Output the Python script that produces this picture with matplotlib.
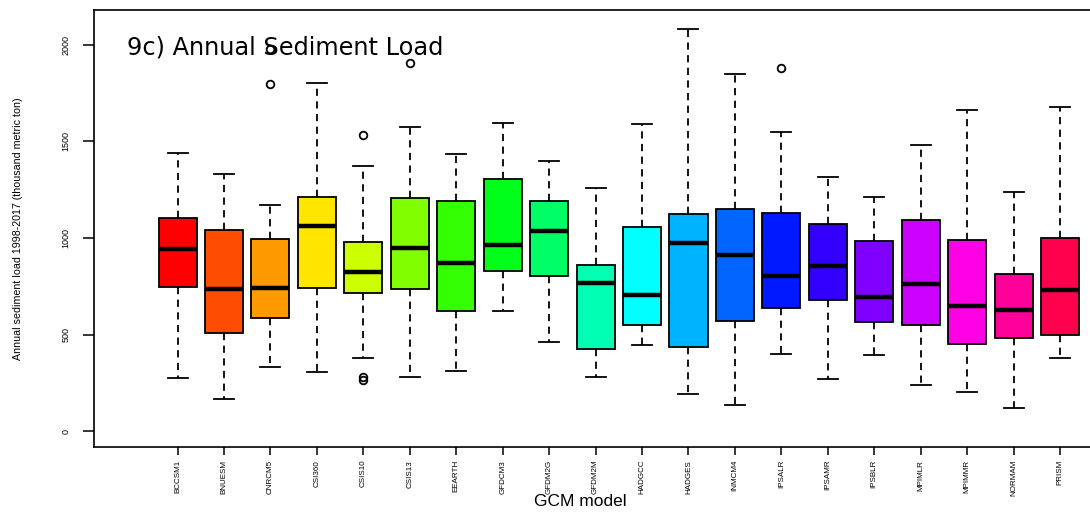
import numpy as np
import matplotlib
matplotlib.use("Agg")
import matplotlib.pyplot as plt

# GCM models and the box statistics of annual sediment load (thousand metric ton)
models = ["BCCSM1", "BNUESM", "CNRCM5", "CSI360", "CSIS10", "CSIS13", "EEARTH",
          "GFDCM3", "GFDM2G", "GFDM2M", "HADGCC", "HADGES", "INMCM4", "IPSALR",
          "IPSAMR", "IPSBLR", "MPIMLR", "MPIMMR", "NORMAM", "PRISM"]
whis_lo = [277, 168, 332, 308, 382, 280, 311, 621, 464, 280,
           446, 196, 139, 402, 271, 394, 239, 206, 123, 378]
q1 = [746, 511, 588, 740, 718, 737, 621, 831, 804, 425,
      552, 437, 571, 639, 680, 566, 552, 454, 485, 497]
median = [944, 737, 740, 1064, 825, 950, 871, 964, 1035, 766,
          704, 976, 913, 804, 856, 695, 761, 647, 627, 733]
q3 = [1105, 1040, 997, 1211, 981, 1207, 1190, 1306, 1193, 861,
      1056, 1126, 1152, 1131, 1074, 987, 1095, 992, 814, 1002]
whis_hi = [1440, 1333, 1173, 1803, 1374, 1574, 1433, 1597, 1397, 1261,
           1588, 2081, 1848, 1549, 1316, 1213, 1481, 1662, 1238, 1678]
outliers = [[], [], [1795, 1976], [], [1533, 268, 280], [1907], [], [], [], [],
            [], [], [], [1881], [], [], [], [], [], []]

# rainbow palette, one colour per model
colors = ["#FF0000", "#FF4D00", "#FF9900", "#FFE500", "#CCFF00", "#80FF00", "#33FF00",
          "#00FF19", "#00FF66", "#00FFB2", "#00FFFF", "#00B3FF", "#0066FF", "#0019FF",
          "#3300FF", "#8000FF", "#CC00FF", "#FF00E6", "#FF0099", "#FF004D"]

narrow = ["Liberation Sans Narrow", "Liberation Sans", "DejaVu Sans"]

stats = []
for i in range(len(models)):
    stats.append(dict(med=median[i], q1=q1[i], q3=q3[i],
                      whislo=whis_lo[i], whishi=whis_hi[i], fliers=outliers[i]))

fig = plt.figure(figsize=(10.9, 5.14), dpi=100)
ax = fig.add_axes([0.0862, 0.1298, 0.963, 0.8508])

pos = np.arange(1, len(models) + 1)
bp = ax.bxp(stats, positions=pos, widths=0.82, capwidths=0.43, patch_artist=True,
            boxprops=dict(linewidth=1.3, edgecolor="black"),
            medianprops=dict(color="black", linewidth=3.2, solid_capstyle="butt"),
            whiskerprops=dict(color="black", linewidth=1.3, linestyle=(0, (4, 3))),
            capprops=dict(color="black", linewidth=1.3),
            flierprops=dict(marker="o", markerfacecolor="none", markeredgecolor="black",
                            markersize=5.5, markeredgewidth=1.3))
for patch, c in zip(bp["boxes"], colors):
    patch.set_facecolor(c)

ax.set_xlim(-0.8, 21.8)
ax.set_ylim(-82, 2179)
ax.set_yticks([0, 500, 1000, 1500, 2000])
ax.set_yticklabels(["0", "500", "1000", "1500", "2000"], rotation=90, va="center",
                   family=narrow, fontsize=6.5)
ax.set_xticks(pos)
ax.set_xticklabels(models, rotation=90, family=narrow, fontsize=5.8)
ax.tick_params(axis="y", length=8, width=1.1, pad=9)
ax.tick_params(axis="x", length=6, width=1.1, pad=3)
for s in ax.spines.values():
    s.set_linewidth(1.2)

ax.text(0.0314, 0.915, "9c) Annual Sediment Load", transform=ax.transAxes,
        fontsize=17.3, family="DejaVu Sans", va="center", ha="left")
fig.text(18 / 1090, 0.556, "Annual sediment load 1998-2017 (thousand metric ton)",
         rotation=90, va="center", ha="center", family=narrow, fontsize=7.7)
fig.text(580 / 1090, 1 - 501 / 514, "GCM model", ha="center", va="center",
         family="Liberation Sans", fontsize=12.5)

fig.savefig("out.png", dpi=100)
